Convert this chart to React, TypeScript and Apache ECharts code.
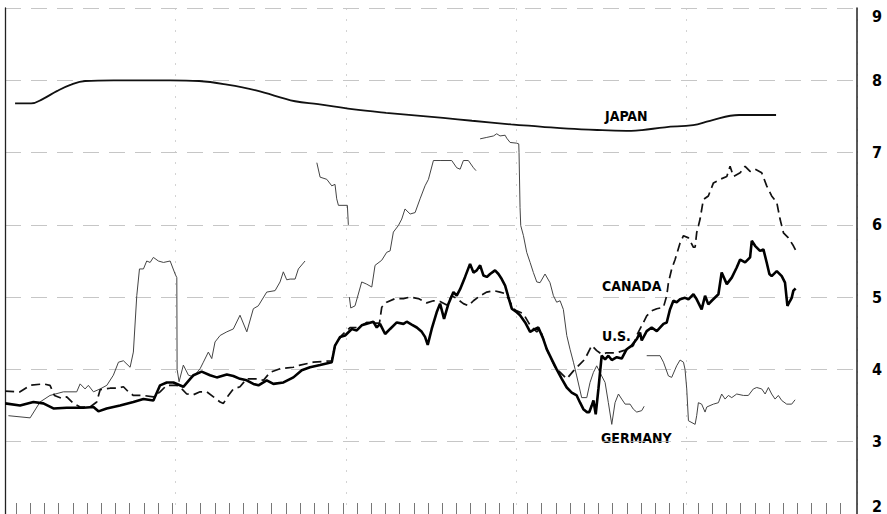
import React, { useEffect, useRef } from "react";
import * as echarts from "echarts";

// Right-hand scale (per cent)
const yTicks = [2, 3, 4, 5, 6, 7, 8, 9];

// x values are in months (monthly tick index, first tick = 0)
const japanMonth = [-0.07, 1.06, 1.87, 2.87, 3.87, 4.86, 6.87, 10.85, 12.89, 14.86, 16.9, 19.65, 21.27, 23.66, 26.06, 30.07, 32.11, 34.86, 36.9, 38.87, 41.27, 43.31, 44.08, 45.7, 47.68, 48.87, 50.92, 53.52];
const japanRate = [7.68, 7.68, 7.74, 7.85, 7.94, 7.99, 8.0, 8.0, 7.99, 7.94, 7.86, 7.71, 7.67, 7.6, 7.55, 7.48, 7.44, 7.39, 7.36, 7.33, 7.31, 7.3, 7.31, 7.35, 7.38, 7.44, 7.52, 7.52];

const usMonth = [-0.77, 0.28, 1.22, 1.92, 2.63, 3.57, 4.74, 5.45, 5.8, 6.38, 7.32, 8.26, 8.97, 9.67, 10.14, 10.61, 11.08, 11.78, 12.49, 13.07, 13.66, 14.13, 14.84, 15.3, 15.77, 16.24, 16.71, 17.07, 17.65, 18.12, 18.83, 19.53, 20.12,
  20.7, 21.41, 22.23, 22.46, 22.82, 23.17, 23.64, 23.99, 24.34, 24.81, 25.16, 25.4, 25.63, 25.99, 26.34, 26.81, 27.28, 27.51, 27.86, 28.22, 28.57, 28.8, 28.99, 29.27, 29.62, 29.86, 30.14, 30.45, 30.8, 31.03, 31.27, 31.62, 31.97, 32.21, 32.44, 32.68, 32.91, 33.15, 33.38, 33.73, 33.97, 34.2, 34.44, 34.67, 34.91, 35.26, 35.49, 35.85, 36.2, 36.55, 36.78,
  37.13, 37.37, 37.72, 38.07, 38.43, 38.78, 39.13, 39.48, 39.72, 39.95, 40.19, 40.37, 40.54, 40.66, 40.82, 41.01, 41.24, 41.48, 41.71, 41.95, 42.3, 42.65, 43.0, 43.36, 43.71, 43.94, 44.06, 44.41, 44.76, 45.12, 45.59, 45.82, 46.05, 46.29, 46.52, 46.76, 47.11, 47.35, 47.7, 47.93, 48.28, 48.52, 48.75, 48.99, 49.46, 49.69, 50.05, 50.4, 50.75, 50.99, 51.34, 51.69, 51.81, 52.04, 52.39, 52.63, 52.86, 53.05, 53.21, 53.57, 53.92, 54.15, 54.32, 54.51, 54.62, 54.74, 54.9];
const usRate = [3.53, 3.5, 3.55, 3.53, 3.46, 3.47, 3.47, 3.48, 3.42, 3.46, 3.5, 3.55, 3.59, 3.57, 3.78, 3.82, 3.82, 3.76, 3.92, 3.97, 3.92, 3.89, 3.93, 3.91, 3.87, 3.85, 3.8, 3.78, 3.85, 3.8, 3.82, 3.89, 3.99,
  4.03, 4.06, 4.1, 4.33, 4.45, 4.47, 4.56, 4.54, 4.61, 4.64, 4.66, 4.58, 4.63, 4.49, 4.56, 4.65, 4.63, 4.66, 4.62, 4.58, 4.52, 4.45, 4.34, 4.56, 4.79, 4.91, 4.7, 4.91, 5.07, 5.02, 5.11, 5.28, 5.46, 5.34, 5.37, 5.44, 5.3, 5.28, 5.32, 5.37, 5.32, 5.25, 5.16, 5.0, 4.84, 4.79, 4.75, 4.65, 4.52, 4.56, 4.58,
  4.42, 4.28, 4.14, 4.0, 3.87, 3.75, 3.68, 3.64, 3.54, 3.45, 3.41, 3.41, 3.5, 3.57, 3.38, 3.73, 4.19, 4.14, 4.19, 4.13, 4.17, 4.15, 4.28, 4.33, 4.42, 4.51, 4.4, 4.53, 4.58, 4.53, 4.63, 4.65, 4.83, 4.95, 4.93, 4.97, 4.99, 4.97, 5.04, 4.97, 4.83, 5.02, 4.9, 4.95, 5.04, 5.34, 5.18, 5.27, 5.41, 5.52, 5.48, 5.55, 5.78, 5.71, 5.64, 5.66, 5.48, 5.32, 5.29, 5.36, 5.29, 5.2, 4.88, 4.95, 4.99, 5.09, 5.12];

const canadaMonth = [-0.77, 0.28, 0.99, 1.92, 2.39, 2.7, 3.22, 3.57, 4.04, 4.51, 5.21, 5.68, 5.92, 6.62, 7.09, 7.56, 7.91, 8.26, 8.97, 9.67, 10.14, 10.61, 11.31, 11.67, 12.02, 12.49, 12.96, 13.43, 13.9, 14.37, 14.6, 14.95, 15.3, 15.77, 16.24, 16.95, 17.42, 17.89, 18.59, 19.53, 20.0,
  20.94, 21.64, 22.23, 22.46, 22.93, 23.52, 24.11, 24.69, 25.28, 25.59, 25.75, 26.1, 26.69, 27.28, 27.75, 28.33, 28.92, 29.39, 29.86, 30.33, 30.68, 31.03, 31.5, 31.85, 32.21, 32.68, 33.15, 33.62, 34.08, 34.44, 34.67, 35.03, 35.26, 35.73, 36.2, 36.67, 36.9,
  37.37, 37.96, 38.78, 39.25, 40.05, 40.54, 40.89, 41.24, 41.59, 42.3, 42.77, 43.12, 43.47, 43.71, 43.94, 44.18, 44.41, 44.76, 45.12, 45.59, 45.82, 45.94, 46.17, 46.41, 46.76, 47.0, 47.35, 47.7, 47.82, 47.93, 48.17, 48.4, 48.75, 49.11, 49.58, 50.05, 50.28, 50.52, 50.99, 51.34, 51.69, 52.04, 52.51, 52.86, 53.21, 53.57, 53.8, 54.04, 54.39, 54.74, 54.97];
const canadaRate = [3.7, 3.69, 3.78, 3.8, 3.78, 3.64, 3.6, 3.62, 3.53, 3.48, 3.48, 3.55, 3.72, 3.74, 3.74, 3.76, 3.69, 3.64, 3.64, 3.62, 3.69, 3.78, 3.78, 3.73, 3.66, 3.65, 3.69, 3.69, 3.62, 3.55, 3.53, 3.64, 3.73, 3.76, 3.87, 3.87, 3.85, 3.96, 4.01, 4.03, 4.06,
  4.1, 4.11, 4.12, 4.33, 4.47, 4.58, 4.58, 4.65, 4.64, 4.64, 4.86, 4.93, 4.98, 4.98, 5.0, 4.98, 4.92, 4.95, 4.94, 4.89, 5.02, 4.98, 4.91, 4.88, 4.95, 5.02, 5.07, 5.09, 5.07, 5.05, 4.98, 4.84, 4.81, 4.77, 4.61, 4.52, 4.56,
  4.28, 4.03, 3.87, 3.98, 4.14, 4.33, 4.26, 4.21, 4.23, 4.23, 4.26, 4.28, 4.33, 4.47, 4.56, 4.65, 4.74, 4.81, 4.84, 4.86, 5.02, 5.2, 5.39, 5.52, 5.75, 5.85, 5.82, 5.69, 5.69, 5.89, 6.08, 6.35, 6.4, 6.58, 6.63, 6.67, 6.81, 6.67, 6.72, 6.81, 6.74, 6.77, 6.72, 6.54, 6.4, 6.31, 6.08, 5.89, 5.82, 5.71, 5.62];

// null marks a break in the published line
const germanyMonth = [-0.54, 0.99, 1.69, 2.39, 3.33, 4.27, 4.51, 4.86, 5.09, 5.45, 5.92, 6.39, 6.85, 7.21, 7.56, 8.03, 8.26, 8.5, 8.69, 8.97, 9.2, 9.44, 9.67, 10.02, 10.38, 10.85, 11.2, 11.32, 11.34, 11.48, 11.78, 12.14, 12.49, 12.96, 13.19, 13.54, 13.78, 14.01, 14.37, 14.84, 15.3, 15.77, 16.25, 16.71, 17.06, 17.65, 18.24, 18.59, 18.82, 19.06, 19.3, 19.65, 19.88, 20.35,
  20.8,
  21.18, 21.41, 21.88, 22.23, 22.46, 22.58, 22.7, 23.33, 23.4,
  23.44,
  23.47, 23.57, 23.87, 24.34, 24.69, 25.05, 25.28, 25.75, 26.1, 26.34, 26.57, 26.92, 27.16, 27.39, 27.75, 28.1, 28.45, 28.8, 29.04, 29.39, 29.86, 30.68, 31.03, 31.27, 31.5, 31.85, 32.21, 32.39,
  32.5,
  32.68, 33.15, 33.62, 33.85, 34.08, 34.44, 34.55, 34.79, 35.26, 35.4, 35.42, 35.49, 35.54, 35.73, 35.96, 36.2, 36.43, 36.67, 36.9, 37.25, 37.6, 37.84, 38.07, 38.31, 38.54, 38.78, 39.01, 39.25, 39.48, 39.83, 40.19, 40.42, 40.66, 40.89, 41.24, 41.48, 41.71, 41.95, 42.18, 42.42, 42.65, 42.89, 43.24, 43.47, 43.71, 44.06, 44.23,
  44.3,
  44.41, 45.35, 45.59, 45.94, 46.17, 46.52, 46.76, 47.0, 47.11, 47.23, 47.35, 47.82, 47.93, 48.05, 48.28, 48.52, 48.64, 48.87, 49.11, 49.46, 49.69, 49.93, 50.16, 50.4, 50.75, 51.22, 51.57, 51.92, 52.16, 52.51, 52.75, 52.98, 53.21, 53.45, 53.68, 53.92, 54.27, 54.62, 54.86];
const germanyRate = [3.36, 3.33, 3.55, 3.64, 3.69, 3.69, 3.8, 3.73, 3.78, 3.69, 3.73, 3.78, 3.92, 4.1, 4.12, 4.03, 4.24, 5.02, 5.39, 5.39, 5.5, 5.48, 5.55, 5.5, 5.48, 5.5, 5.32, 5.27, 4.0, 3.83, 4.06, 3.92, 3.9, 4.01, 4.1, 4.24, 4.15, 4.38, 4.47, 4.52, 4.56, 4.75, 4.52, 4.84, 4.88, 5.07, 5.09, 5.21, 5.35, 5.24, 5.25, 5.25, 5.39, 5.5,
  null,
  6.86, 6.66, 6.63, 6.54, 6.56, 6.36, 6.27, 6.27, 6.0,
  null,
  5.0, 4.85, 4.88, 5.21, 5.18, 5.14, 5.44, 5.51, 5.62, 5.64, 5.9, 5.99, 6.08, 6.22, 6.15, 6.17, 6.36, 6.54, 6.63, 6.89, 6.89, 6.89, 6.79, 6.77, 6.89, 6.89, 6.79, 6.75,
  null,
  7.19, 7.21, 7.23, 7.26, 7.23, 7.24, 7.2, 7.14, 7.13, 7.12, 7.0, 6.24, 5.99, 5.85, 5.62, 5.48, 5.34, 5.21, 5.2, 5.32, 5.2, 5.02, 4.93, 4.95, 4.83, 4.47, 4.28, 4.1, 3.91, 3.61, 3.61, 3.82, 3.96, 4.05, 3.91, 3.82, 3.54, 3.24, 3.54, 3.66, 3.59, 3.52, 3.52, 3.45, 3.41, 3.43, 3.49,
  null,
  4.19, 4.19, 4.1, 3.91, 3.89, 4.05, 4.13, 4.1, 4.0, 3.73, 3.29, 3.24, 3.36, 3.54, 3.52, 3.41, 3.48, 3.5, 3.52, 3.54, 3.66, 3.59, 3.64, 3.61, 3.66, 3.64, 3.64, 3.73, 3.75, 3.73, 3.66, 3.75, 3.66, 3.59, 3.64, 3.57, 3.52, 3.52, 3.58];

const seriesLabels = ["JAPAN", "CANADA", "U.S.", "GERMANY"];

const pairs = (xs: number[], ys: (number | null)[]) => xs.map((x, i) => [x, ys[i] === null ? "-" : ys[i]]);

const FONT = '"Liberation Sans Narrow", "DejaVu Sans Condensed", "Arial Narrow", "DejaVu Sans", sans-serif';

export default function App() {
  const ref = useRef<HTMLDivElement>(null);
  useEffect(() => {
    document.body.style.margin = "0";
    const chart = echarts.init(ref.current!, null, { renderer: "svg" });
    const labelStyle = (text: string) => ({
      text,
      fill: "#000",
      font: `bold 14px ${FONT}`,
      verticalAlign: "middle",
    });
    chart.setOption({
      animation: false,
      backgroundColor: "#fff",
      grid: [
        { left: 5, right: 30, top: 8, bottom: 0 },
        { left: 16, right: 47, top: 8, bottom: 0 },
      ],
      xAxis: [
        { type: "value", gridIndex: 0, min: -0.78, max: 59.22, show: false },
        {
          type: "value", gridIndex: 0, min: 0, max: 60, interval: 12, position: "top",
          axisLine: { show: false, onZero: false }, axisTick: { show: false }, axisLabel: { show: false },
          splitLine: { show: true, lineStyle: { color: "#c8c8c8", width: 0.8, type: [2, 9] } },
        },
        {
          type: "value", gridIndex: 1, min: 0, max: 58, interval: 1, position: "bottom",
          axisLine: { show: false, onZero: false }, axisLabel: { show: false }, splitLine: { show: false },
          axisTick: { show: true, inside: true, length: 11, lineStyle: { color: "#777", width: 1 } },
        },
      ],
      yAxis: [
        {
          type: "value", gridIndex: 0, position: "right", min: yTicks[0], max: yTicks[yTicks.length - 1], interval: 1,
          axisLine: { show: true, onZero: false, lineStyle: { color: "#222", width: 1.5 } },
          axisTick: { show: false },
          axisLabel: {
            show: true, margin: 15, color: "#000", fontWeight: "bold", fontSize: 16, fontFamily: FONT,
            verticalAlignMinLabel: "bottom", verticalAlignMaxLabel: "top",
            formatter: (v: number) => (yTicks.includes(v) ? String(v) : ""),
          },
          splitLine: { show: true, lineStyle: { color: "#b8b8b8", width: 0.8, type: [16, 10] } },
        },
        {
          type: "value", gridIndex: 0, position: "left", min: 2, max: 9,
          axisLine: { show: true, onZero: false, lineStyle: { color: "#222", width: 1.3 } },
          axisTick: { show: false }, axisLabel: { show: false }, splitLine: { show: false },
        },
        { type: "value", gridIndex: 1, min: 2, max: 9, show: false },
      ],
      series: [
        {
          name: "GERMANY", type: "line", xAxisIndex: 0, yAxisIndex: 0, showSymbol: false, symbol: "none",
          connectNulls: false, data: pairs(germanyMonth, germanyRate),
          lineStyle: { color: "#444", width: 1 }, z: 2,
        },
        {
          name: "JAPAN", type: "line", xAxisIndex: 0, yAxisIndex: 0, showSymbol: false, symbol: "none", smooth: 0.4,
          data: pairs(japanMonth, japanRate), lineStyle: { color: "#111", width: 1.8 }, z: 3,
        },
        {
          name: "CANADA", type: "line", xAxisIndex: 0, yAxisIndex: 0, showSymbol: false, symbol: "none",
          data: pairs(canadaMonth, canadaRate), lineStyle: { color: "#111", width: 1.7, type: [9, 5] }, z: 4,
        },
        {
          name: "U.S.", type: "line", xAxisIndex: 0, yAxisIndex: 0, showSymbol: false, symbol: "none",
          data: pairs(usMonth, usRate), lineStyle: { color: "#000", width: 2.6 }, z: 5,
        },
      ],
      graphic: [
        { type: "text", left: 605, top: 109, style: labelStyle(seriesLabels[0]) },
        { type: "text", left: 602, top: 279, style: labelStyle(seriesLabels[1]) },
        { type: "text", left: 602, top: 329, style: labelStyle(seriesLabels[2]) },
        { type: "text", left: 601, top: 431, style: labelStyle(seriesLabels[3]) },
      ],
    });
    return () => chart.dispose();
  }, []);
  return <div ref={ref} style={{ width: 887, height: 514, background: "#fff" }} />;
}
